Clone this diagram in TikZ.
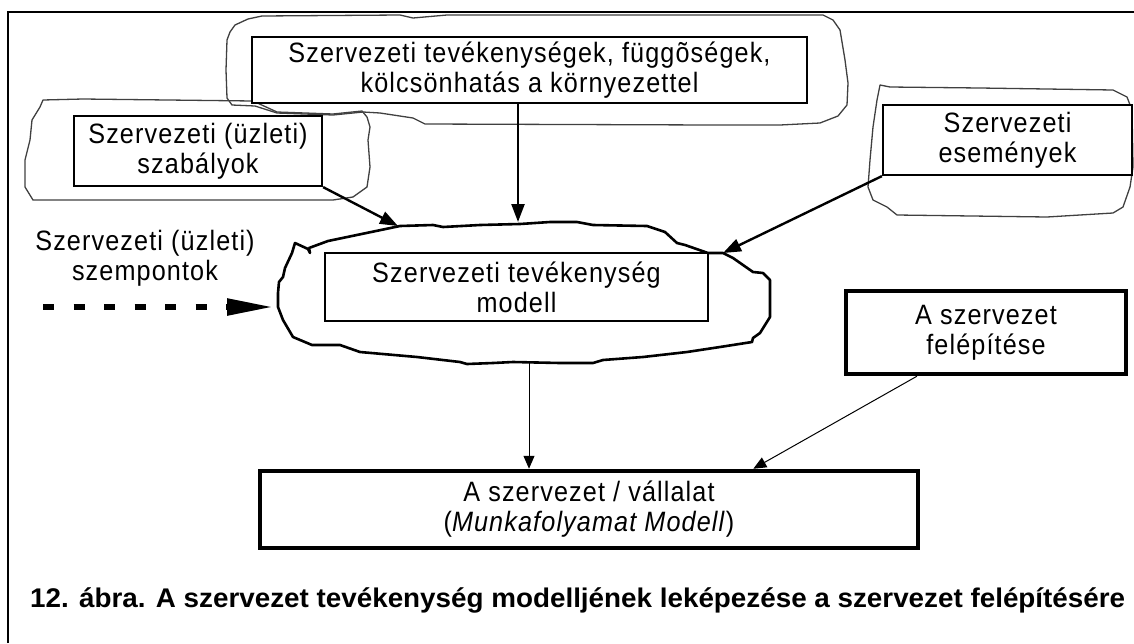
\documentclass[tikz,border=0pt]{standalone}
\usepackage{fontspec}
\setmainfont[FakeStretch=0.9, LetterSpace=4]{Liberation Sans}
\newfontfamily\capfont{Liberation Sans}
\usetikzlibrary{arrows.meta,calc}
\begin{document}
\begin{tikzpicture}[x=1pt,y=-1pt,
  txt/.style={font=\fontsize{28}{30}\selectfont, align=center, inner sep=0pt},
  box/.style={txt, draw, fill=white, line width=2.2pt},
  cloudthin/.style={draw=black!75, line width=1.3pt, line join=round},
  cloudthick/.style={draw=black, line width=2.6pt, line join=round},
  arrA/.style={line width=2.4pt, -{Triangle[length=18pt,width=13pt]}},
  arrB/.style={line width=1pt, -{Triangle[length=13pt,width=11pt]}},
  arrD/.style={line width=5.5pt, dash pattern=on 11pt off 19.5pt, -{Triangle[length=46pt,width=16pt]}}
]
\useasboundingbox (0,0) rectangle (1134,643);
% frame
\draw[line width=2pt] (8,643) -- (8,12) -- (1134,12);

% clouds
\draw[cloudthin] (227,40) -- (230,32) -- (235,25) -- (248,19) -- (262,16) -- (400,15) -- (413,18) -- (447,15) -- (823,15) -- (833,20) -- (840,30) -- (845,60) -- (848,83) -- (847,105) -- (838,116) -- (820,123) -- (780,125) -- (713,125) -- (425,124) -- (413,118) -- (380,113) -- (363,112) -- (333,115) -- (277,113) -- (255,106) -- (232,105) -- (227,98) -- (226,70) -- cycle;
\draw[cloudthin] (43,100) -- (83,99) -- (253,101) -- (277,112) -- (333,114) -- (362,111) -- (367,117) -- (370,127) -- (368,140) -- (370,167) -- (367,187) -- (353,197) -- (333,200) -- (33,200) -- (25,187) -- (25,160) -- (30,140) -- (32,120) -- (40,107) -- cycle;
\draw[cloudthin] (880,85) -- (890,87) -- (980,88) -- (1113,90) -- (1127,97) -- (1132,110) -- (1133,167) -- (1130,187) -- (1123,207) -- (1113,213) -- (1047,217) -- (897,215) -- (887,207) -- (873,200) -- (868,187) -- (870,160) -- (873,127) -- (877,100) -- cycle;
\draw[cloudthick] (295,243) -- (308,249) -- (310,253) -- (309,248) -- (328,241) -- (400,226) -- (433,225) -- (443,227) -- (480,225) -- (520,224) -- (550,222) -- (577,222) -- (593,225) -- (647,226) -- (665,232) -- (677,243) -- (685,245) -- (708,253) -- (723,253) -- (733,258) -- (753,272) -- (763,273) -- (770,280) -- (770,317) -- (760,333) -- (753,338) -- (752,342) -- (720,347) -- (687,352) -- (643,357) -- (603,360) -- (593,363) -- (560,363) -- (513,362) -- (493,363) -- (467,364) -- (460,362) -- (417,357) -- (360,352) -- (340,345) -- (312,345) -- (293,337) -- (283,320) -- (278,307) -- (278,293) -- (279,282) -- (283,277) -- (285,268) -- (292,253) -- cycle;

% boxes
\node[box, minimum width=555, minimum height=66] (tb) at (529.5,70) {Szervezeti tevékenységek, függõségek,\\kölcsönhatás a környezettel};
\node[box, minimum width=248, minimum height=70] (sz) at (198,151) {Szervezeti (üzleti)\\szabályok};
\node[box, minimum width=249, minimum height=70] (ev) at (1007.5,140) {Szervezeti\\események};
\node[box, line width=1.8pt, minimum width=383, minimum height=68] (ct) at (516.5,287) {Szervezeti tevékenység\\modell};
\node[box, line width=4.5pt, minimum width=280, minimum height=83] (fe) at (986,332.5) {A szervezet\\felépítése};
\node[box, line width=4.5pt, minimum width=658, minimum height=77] (bt) at (589,509.5) {A szervezet / vállalat\\(\textit{Munkafolyamat Modell})};
\node[txt] (sp) at (145,258) {Szervezeti (üzleti)\\szempontok};

% connector end points
\coordinate (cN) at (518,222);
\coordinate (cNW) at (398,226);
\coordinate (cNE) at (723,253);
\coordinate (cW) at (273,307);
\coordinate (cS) at (529,362);
\coordinate (dS) at (43,307);

\draw[arrA] (tb.south -| cN) -- (cN);
\draw[arrA] (sz.south east) -- (cNW);
\draw[arrA] (ev.south west) -- (cNE);
\draw[arrD] (dS) -- (cW);
\draw[arrB] (cS) -- (cS |- bt.north);
\draw[arrB] ($(fe.south west)!0.257!(fe.south east)$) -- ($(bt.north west)!0.748!(bt.north east)$);

% caption
\node[anchor=base west, inner sep=0pt] (cap) at (30,607) {\resizebox{1095pt}{\height}{\capfont\bfseries\fontsize{27}{30}\selectfont 12. ábra. A szervezet tevékenység modelljének leképezése a szervezet felépítésére}};
\end{tikzpicture}
\end{document}
